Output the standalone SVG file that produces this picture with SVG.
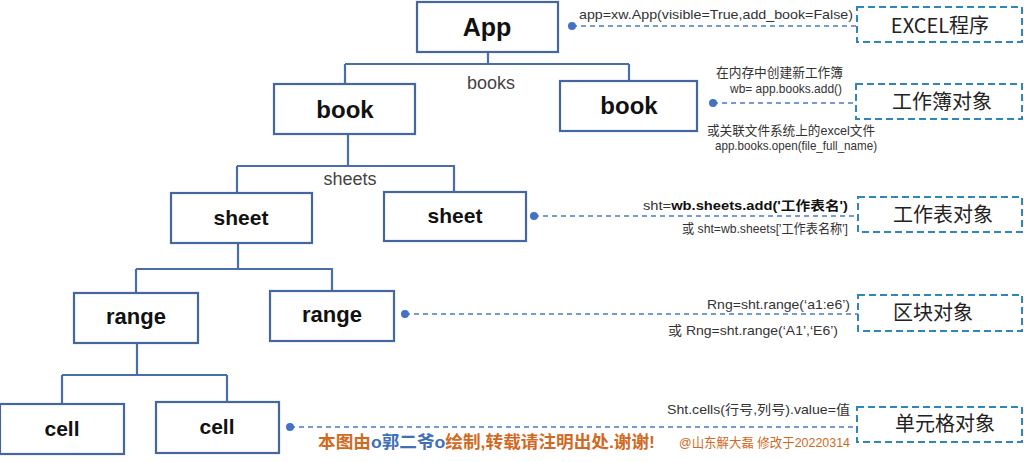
<svg xmlns="http://www.w3.org/2000/svg" width="1024" height="462" viewBox="0 0 1024 462">
<defs>
<style>
.box{fill:#fff;stroke:#44679f;stroke-width:2.2}
.lbl{font-family:"Liberation Sans","Noto Sans",sans-serif;font-weight:bold;fill:#111;text-anchor:middle}
.tree{fill:none;stroke:#4a6fa8;stroke-width:2.2}
.edge{font-family:"Liberation Sans","Noto Sans",sans-serif;font-size:18px;fill:#444;text-anchor:middle}
.dash{fill:none;stroke:#4a7bc4;stroke-width:1.5;stroke-dasharray:5 4}
.dbox{fill:#fff;stroke:#2f86b8;stroke-width:2;stroke-dasharray:7 4}
.dot{fill:#4472c4}
.code{font-family:"Liberation Sans","Noto Sans CJK SC",sans-serif;font-size:13px;fill:#333}
.tag{font-family:"Noto Sans CJK SC","Liberation Sans",sans-serif;font-size:20px;fill:#222}
.cn{font-family:"Liberation Sans","Noto Sans CJK SC",sans-serif}
</style>
</defs>
<rect width="1024" height="462" fill="#fff"/>

<g id="connectors">
<path class="tree" d="M488 52V64M345 64H629M345 64V84M629 64V81"/>
<path class="tree" d="M348 134V166M237 166H455M237 166V193M454 166V192"/>
<path class="tree" d="M238 243V269M136 269H333M136 269V293M332 269V291"/>
<path class="tree" d="M137 343V375M62 375H227M62 375V404M227 375V402"/>
<text class="edge" x="491" y="89">books</text>
<text class="edge" x="350" y="185">sheets</text>
<path class="dash" d="M572 26H857"/>
<path class="dash" d="M713 103H856"/>
<path class="dash" d="M534 216H858"/>
<path class="dash" d="M405 314H858"/>
<path class="dash" d="M290 427H857"/>
<circle class="dot" cx="572" cy="26" r="4"/>
<circle class="dot" cx="713" cy="103" r="4"/>
<circle class="dot" cx="534" cy="216" r="4"/>
<circle class="dot" cx="405" cy="314" r="4"/>
<circle class="dot" cx="290" cy="427" r="4"/>
</g>

<g id="node-app"><rect class="box" x="417" y="2" width="141" height="50"/><text class="lbl" x="487" y="36" font-size="25">App</text></g>
<g id="node-book1"><rect class="box" x="274" y="84" width="141" height="50"/><text class="lbl" x="345" y="118" font-size="24">book</text></g>
<g id="node-book2"><rect class="box" x="560" y="81" width="137" height="50"/><text class="lbl" x="629" y="114" font-size="24">book</text></g>
<g id="node-sheet1"><rect class="box" x="171" y="193" width="141" height="50"/><text class="lbl" x="241" y="225" font-size="21">sheet</text></g>
<g id="node-sheet2"><rect class="box" x="384" y="192" width="142" height="49"/><text class="lbl" x="455" y="223" font-size="21">sheet</text></g>
<g id="node-range1"><rect class="box" x="74" y="293" width="124" height="50"/><text class="lbl" x="136" y="324" font-size="22">range</text></g>
<g id="node-range2"><rect class="box" x="270" y="291" width="124" height="50"/><text class="lbl" x="332" y="322" font-size="22">range</text></g>
<g id="node-cell1"><rect class="box" x="0" y="404" width="124" height="50"/><text class="lbl" x="62" y="436" font-size="21">cell</text></g>
<g id="node-cell2"><rect class="box" x="156" y="402" width="123" height="51"/><text class="lbl" x="217" y="434" font-size="21">cell</text></g>

<g id="tag-excel"><rect class="dbox" x="857" y="7" width="165" height="35"/><text class="tag" x="940" y="33" text-anchor="middle">EXCEL程序</text></g>
<g id="tag-book"><rect class="dbox" x="856" y="84" width="166" height="35"/><text class="tag" x="942" y="109" text-anchor="middle">工作簿对象</text></g>
<g id="tag-sheet"><rect class="dbox" x="858" y="197" width="164" height="35"/><text class="tag" x="943" y="222" text-anchor="middle">工作表对象</text></g>
<g id="tag-range"><rect class="dbox" x="858" y="295" width="164" height="36"/><text class="tag" x="893" y="320">区块对象</text></g>
<g id="tag-cell"><rect class="dbox" x="857" y="407" width="165" height="35"/><text class="tag" x="945" y="431" text-anchor="middle">单元格对象</text></g>

<g id="notes">
<text class="code" x="579" y="19" textLength="274" lengthAdjust="spacingAndGlyphs">app=xw.App(visible=True,add_book=False)</text>
<text class="code" x="716" y="77" textLength="127" lengthAdjust="spacingAndGlyphs">在内存中创建新工作簿</text>
<text class="code" x="730" y="93" textLength="112" lengthAdjust="spacingAndGlyphs">wb= app.books.add()</text>
<text class="code" x="707" y="135" textLength="168" lengthAdjust="spacingAndGlyphs">或关联文件系统上的excel文件</text>
<text class="code" x="715" y="150" textLength="162" lengthAdjust="spacingAndGlyphs">app.books.open(file_full_name)</text>
<text class="code" x="643" y="210" font-size="14" textLength="205" lengthAdjust="spacingAndGlyphs">sht=<tspan fill="#111" font-weight="bold">wb.sheets.add('工作表名')</tspan></text>
<text class="code" x="682" y="233" textLength="166" lengthAdjust="spacingAndGlyphs">或 sht=wb.sheets['工作表名称']</text>
<text class="code" x="707" y="309" font-size="14" textLength="143" lengthAdjust="spacingAndGlyphs">Rng=sht.range(‘a1:e6’)</text>
<text class="code" x="668" y="335" font-size="14" textLength="170" lengthAdjust="spacingAndGlyphs">或  Rng=sht.range(‘A1’,‘E6’)</text>
<text class="code" x="667" y="414" font-size="14" textLength="183" lengthAdjust="spacingAndGlyphs">Sht.cells(行号,列号).value=值</text>
<text class="cn" x="318" y="448" font-size="17" font-weight="bold" fill="#d2691e" textLength="337" lengthAdjust="spacingAndGlyphs">本图由<tspan fill="#3f6fb5">o郭二爷o</tspan>绘制,转载请注明出处.谢谢!</text>
<text class="cn" x="679" y="447" font-size="13" fill="#d2691e" textLength="171" lengthAdjust="spacingAndGlyphs">@山东解大磊 修改于20220314</text>
</g>
</svg>
